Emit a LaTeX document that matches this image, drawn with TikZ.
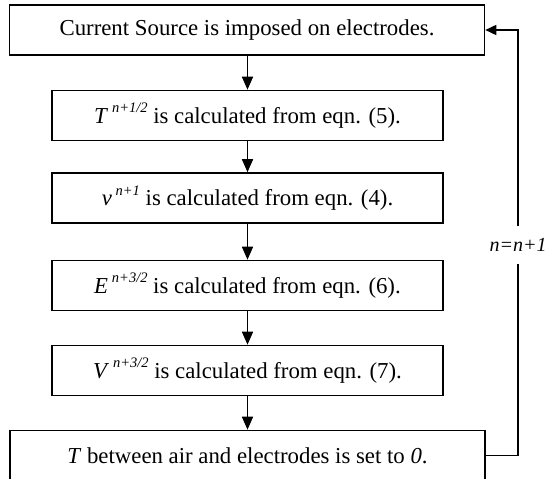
\documentclass[tikz,border=0pt]{standalone}
\usepackage{fontspec}
\setmainfont{Liberation Serif}
\usetikzlibrary{arrows.meta}
\newcommand{\mysup}[1]{\,\raisebox{0.45em}{\fontsize{14.5}{15}\selectfont\itshape #1}}
\begin{document}
\begin{tikzpicture}[x=1pt,y=-1pt, line width=1.6pt,
  box/.style={draw, minimum height=50pt, inner sep=0pt, font=\fontsize{22.8}{26}\selectfont},
  wide/.style={box, minimum width=475pt},
  narrow/.style={box, minimum width=391pt},
  arr/.style={-{Triangle[length=13pt,width=11pt]}},
  looparr/.style={-{Triangle[length=11pt,width=10pt]}}]
\useasboundingbox (0,0) rectangle (547,479);
\node[wide] (b1) at (247,30) {Current Source is imposed on electrodes.};
\node[narrow] (b2) at (247.5,115.5) {\textit{T}\mysup{n+1/2} is calculated from eqn. (5).};
\node[narrow] (b3) at (247.5,198) {\textit{v}\mysup{n+1} is calculated from eqn. (4).};
\node[narrow] (b4) at (247.5,285.5) {\textit{E}\mysup{n+3/2} is calculated from eqn. (6).};
\node[narrow] (b5) at (247.5,370.5) {\textit{V}\mysup{n+3/2} is calculated from eqn. (7).};
\node[wide] (b6) at (247.5,455.5) {\textit{T} between air and electrodes is set to \textit{0}.};
\node[font=\fontsize{20}{22}\selectfont\itshape, minimum height=36pt, inner sep=0pt] (lbl) at (518,245) {n=n+1};
\draw[arr] (b1.south -| b2.north) -- (b2.north);
\draw[arr] (b2) -- (b3);
\draw[arr] (b3) -- (b4);
\draw[arr] (b4) -- (b5);
\draw[arr] (b5.south) -- (b5.south |- b6.north);
\draw (b6.east) -| (lbl.south);
\draw[looparr] (lbl.north) |- (b1.east);
\end{tikzpicture}
\end{document}
